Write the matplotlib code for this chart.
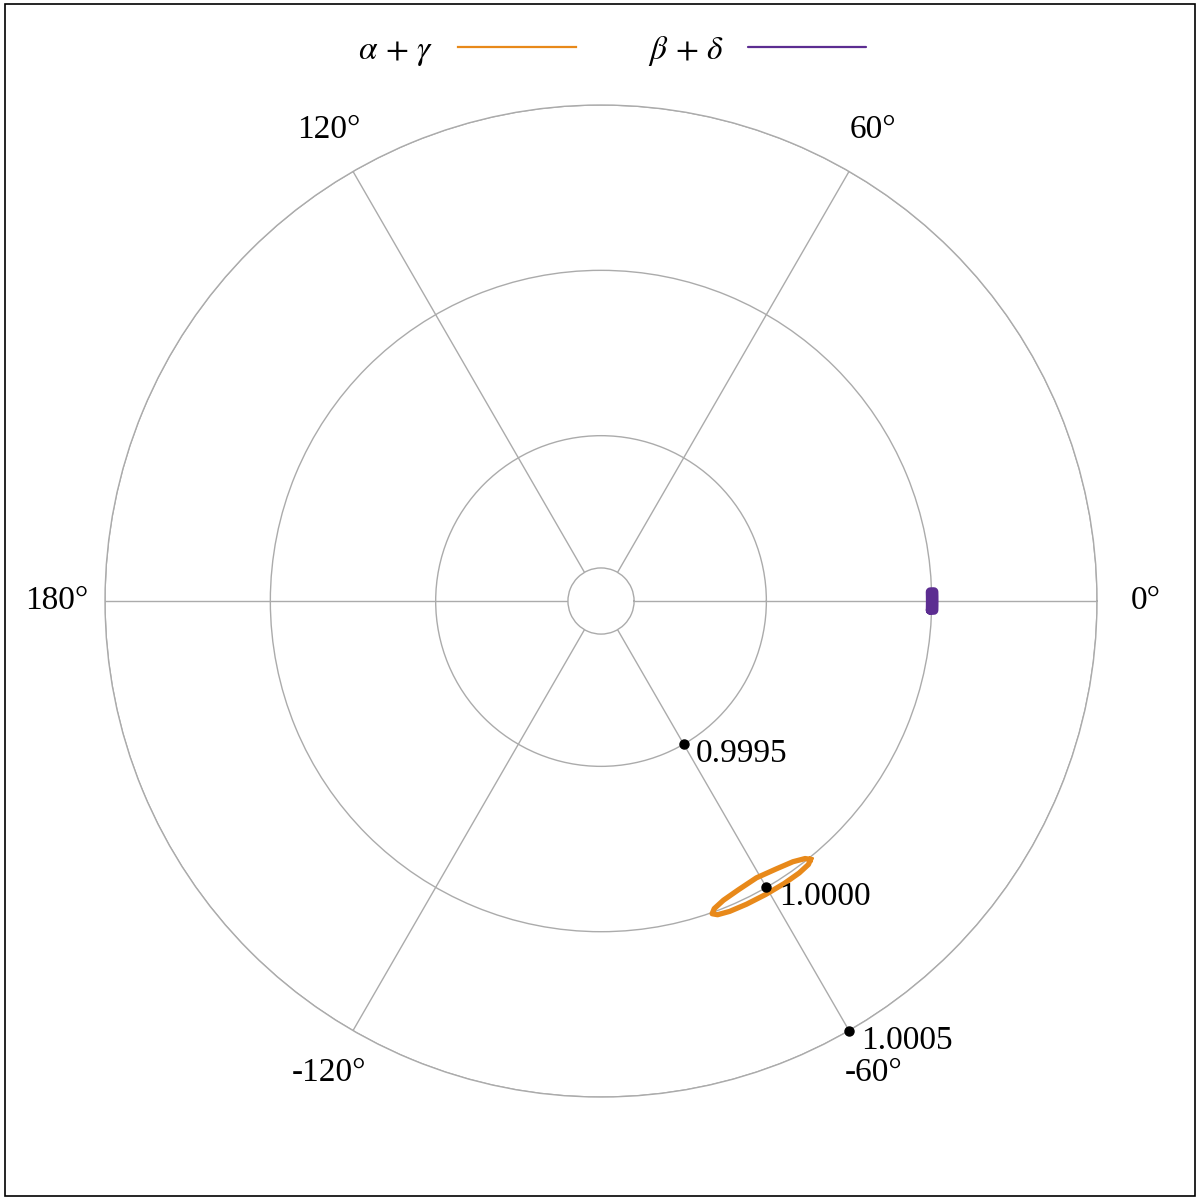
import numpy as np
import matplotlib.pyplot as plt
from matplotlib.patches import Rectangle

plt.rcParams['font.family'] = ['Liberation Serif', 'DejaVu Serif']
plt.rcParams['mathtext.fontset'] = 'stix'

# alpha+gamma loop (angle in degrees, radius)
ag_theta = [-50.96, -51.79, -53.92, -57.04, -60.69, -64.37, -67.48, -69.62,
            -70.44, -69.79, -67.74, -64.53, -60.68, -56.83, -53.64, -51.60, -50.96]
ag_r = [1.000006, 1.000014, 1.0000176, 1.0000182, 1.0000176, 1.000017, 1.000016, 1.000012,
        1.0000036, 0.9999912, 0.9999776, 0.999967, 0.99996, 0.999968, 0.999979, 0.9999937, 1.000006]

# beta+delta cluster
bd_theta = [-1.6, -0.8, 0.0, 0.8, 1.6, 1.6, 0.8, 0.0, -0.8, -1.6, -1.6]
bd_r = [0.999996, 0.999996, 0.999996, 0.999996, 0.999996,
        1.000007, 1.000007, 1.000007, 1.000007, 1.000007, 0.999996]

theta_ticks = [0, 60, 120, 180, -120, -60]
theta_labels = ['0°', '60°', '120°', '180°', '-120°', '-60°']
r_ticks = [0.9995, 1.0000, 1.0005]
r_labels = ['0.9995', '1.0000', '1.0005']

orange = '#E8891A'
purple = '#5C2D91'
grid_col = '#ABABAB'

fig = plt.figure(figsize=(12, 12), dpi=100)
ax = fig.add_axes([0.0875, 0.0858, 0.8267, 0.8267], projection='polar')

ax.plot(np.deg2rad(ag_theta), ag_r, color=orange, lw=3.8, solid_joinstyle='round', label=r'$\alpha\,+\,\gamma$')
ax.plot(np.deg2rad(bd_theta), bd_r, color=purple, lw=6.5, solid_joinstyle='round',
        solid_capstyle='round', label=r'$\beta\,+\,\delta$')

ax.set_rorigin(0.999)
ax.set_ylim(0.9991, 1.0005)
ax.set_yticks(r_ticks)
ax.set_yticklabels([])
ax.set_thetagrids([t % 360 for t in theta_ticks], [''] * len(theta_ticks))
ax.set_thetamin(0)
ax.set_thetamax(360)
ax.grid(True, color=grid_col, lw=1.0)
for sp in ax.spines.values():
    sp.set_color(grid_col)
    sp.set_linewidth(1.0)

# angle labels centred on a ring just outside the plot
for t, lab in zip(theta_ticks, theta_labels):
    a = np.deg2rad(t)
    ax.text(0.5 + 0.549 * np.cos(a), 0.5 + 0.549 * np.sin(a), lab, transform=ax.transAxes,
            ha='center', va='center', fontsize=24)

# radial tick markers along -60 degrees
for rv, lab in zip(r_ticks, r_labels):
    ax.plot(np.deg2rad(-60), rv, 'o', color='black', ms=6.5, clip_on=False, zorder=5)
    ax.annotate(lab, xy=(np.deg2rad(-60), rv), xytext=(9, -7), textcoords='offset points',
                ha='left', va='center', fontsize=24, annotation_clip=False)

leg = fig.legend(loc='center', bbox_to_anchor=(0.51, 1 - 51 / 1200), ncol=2, frameon=False,
                 markerfirst=False, fontsize=24, handlelength=3.54, handletextpad=0.72,
                 columnspacing=2.16)
for ln in leg.get_lines():
    ln.set_linewidth(1.6)

fig.patches.append(Rectangle((5 / 1200, 4 / 1200), 1190 / 1200, 1192 / 1200,
                             transform=fig.transFigure, fill=False, ec='black', lw=1.2))

fig.savefig('out.png', dpi=100)
